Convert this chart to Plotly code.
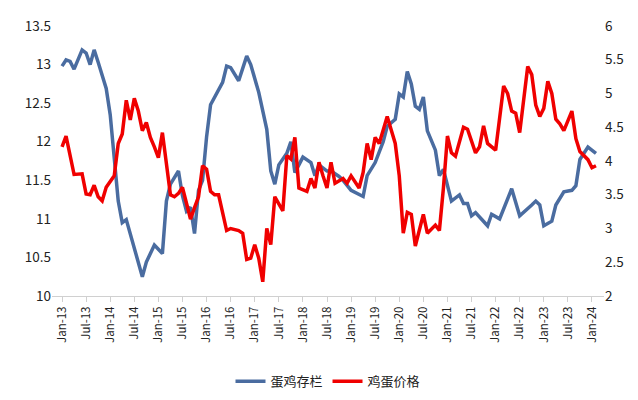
import plotly.graph_objects as go

# month offsets from Jan-2013
blue_m = [0,1,2,3,5,6,7,8,9,11,12,14,15,16,20,21,23,25,26,27,29,30,31,32,33,34,35,36,37,39,40,41,42,44,46,47,49,51,52,53,54,56,57,58,60,62,63,64,66,67,69,70,72,75,76,78,80,81,83,84,85,86,87,88,89,90,91,93,94,95,97,99,100,101,102,103,106,107,109,112,114,117,118,119,120,122,123,125,127,128,129,131,133]
blue_v = [12.98,13.06,13.04,12.94,13.19,13.15,13.0,13.19,13.03,12.69,12.35,11.23,10.95,10.99,10.25,10.44,10.66,10.55,11.23,11.45,11.62,11.3,11.1,11.15,10.81,11.37,11.5,12.06,12.48,12.66,12.77,12.98,12.96,12.79,13.11,13.0,12.64,12.16,11.62,11.45,11.7,11.85,12.0,11.6,11.8,11.73,11.56,11.7,11.62,11.62,11.55,11.5,11.37,11.29,11.56,11.73,12.0,12.2,12.29,12.62,12.58,12.91,12.75,12.46,12.42,12.58,12.14,11.89,11.56,11.64,11.23,11.31,11.2,11.2,11.04,11.08,10.91,11.06,11.0,11.39,11.04,11.18,11.23,11.18,10.91,10.97,11.18,11.35,11.37,11.43,11.77,11.93,11.85]

red_m = [0,1,3,5,6,7,8,9,10,11,13,14,15,16,17,18,19,20,21,22,23,24,25,26,27,28,29,30,31,32,33,34,35,36,37,38,39,40,41,42,44,45,46,47,48,49,50,51,52,53,55,56,57,58,59,61,62,63,64,65,66,67,68,70,71,72,74,75,76,77,78,79,81,83,84,85,86,87,88,90,91,93,94,95,96,97,98,100,101,103,104,105,106,108,110,111,112,113,114,116,117,118,119,120,121,122,123,124,125,127,128,129,131,132,133]
red_v = [4.21,4.37,3.8,3.81,3.51,3.5,3.64,3.47,3.41,3.61,3.78,4.26,4.4,4.9,4.61,4.93,4.74,4.45,4.57,4.35,4.21,4.05,4.42,3.93,3.5,3.47,3.52,3.61,3.36,3.14,3.31,3.47,3.93,3.88,3.55,3.5,3.5,3.26,2.97,3.0,2.97,2.93,2.54,2.56,2.76,2.56,2.21,3.0,2.76,3.47,3.26,4.08,4.03,4.35,3.6,3.55,3.74,3.6,3.98,3.78,3.6,3.98,3.67,3.74,3.67,3.78,3.6,3.83,4.26,4.02,4.35,4.26,4.66,4.26,3.78,2.93,3.24,3.21,2.74,3.21,2.93,3.05,2.97,3.6,4.37,4.12,4.07,4.5,4.47,4.12,4.21,4.52,4.26,4.16,5.11,5.0,4.74,4.71,4.42,5.4,5.28,4.83,4.66,4.78,5.18,5.0,4.62,4.55,4.45,4.74,4.33,4.14,4.02,3.9,3.93]

tick_vals = list(range(0, 133, 6))
tick_text = [("Jan-" if i % 12 == 0 else "Jul-") + str(13 + i // 12) for i in tick_vals]

fig = go.Figure()
fig.add_trace(go.Scatter(x=blue_m, y=blue_v, name="蛋鸡存栏", mode="lines",
                         line=dict(color="#4A6CA0", width=3.5)))
fig.add_trace(go.Scatter(x=red_m, y=red_v, name="鸡蛋价格", mode="lines", yaxis="y2",
                         line=dict(color="#F00000", width=3.5)))
font = "Noto Sans CJK SC, Liberation Sans, Arial"
fig.update_layout(
    width=638, height=400, paper_bgcolor="white", plot_bgcolor="white",
    margin=dict(l=44, r=42, t=18, b=102),
    font=dict(family=font, size=13, color="#222"),
    xaxis=dict(range=[-2.5, 135], tickvals=tick_vals, ticktext=tick_text, tickangle=-90,
               showgrid=False, showline=True, linecolor="#D0D0D0", ticks="outside",
               tickcolor="#D0D0D0", ticklen=5, tickfont=dict(size=11.5), automargin=False),
    yaxis=dict(range=[10, 13.5], dtick=0.5, showgrid=False, zeroline=False,
               tickfont=dict(size=13.5), automargin=False),
    yaxis2=dict(range=[2, 6], dtick=0.5, overlaying="y", side="right", showgrid=False,
                zeroline=False, tickfont=dict(size=13.5), automargin=False),
    legend=dict(orientation="h", x=0.5, xanchor="center", y=-0.26, yanchor="top",
                font=dict(size=13)),
)
fig.write_html("out.html")
